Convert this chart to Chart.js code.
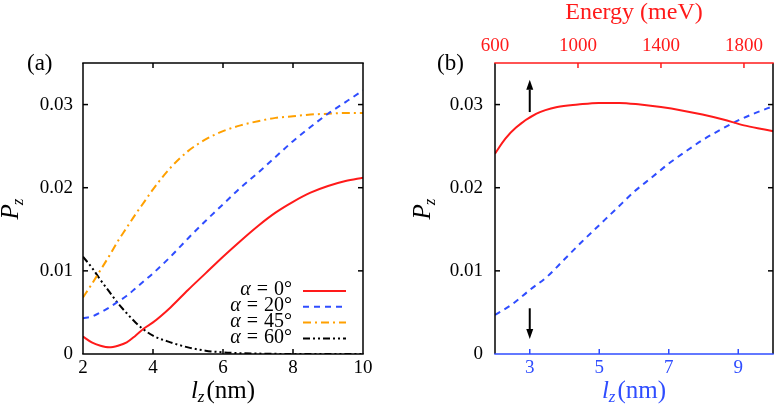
<!DOCTYPE html>
<html>
<head>
<meta charset="utf-8">
<script src="https://cdn.jsdelivr.net/npm/chart.js@4.4.1/dist/chart.umd.min.js"></script>
<style>
  html, body { margin: 0; padding: 0; background: #fff; }
  #wrap { position: relative; width: 776px; height: 407px; }
  canvas { position: absolute; top: 0; }
  #chartA { left: 0; }
  #chartB { left: 410px; }
</style>
</head>
<body>
<div id="wrap">
  <canvas id="chartA" width="410" height="407"></canvas>
  <canvas id="chartB" width="366" height="407"></canvas>
</div>
<script>
/* Two-panel P_z figure: (a) P_z vs l_z for four angles, (b) P_z vs l_z and vs energy */

// ---- panel (a) data ----
const lzA = [2, 2.25, 2.5, 2.75, 3, 3.25, 3.5, 3.75, 4, 4.5, 5, 5.5, 6, 6.5, 7, 7.5, 8, 8.5, 9, 9.5, 10];
const pzAlpha0  = [0.0021, 0.0014, 0.0010, 0.0008, 0.0010, 0.0014, 0.0022, 0.0031, 0.0038, 0.0056, 0.0077, 0.0097, 0.0117, 0.0136, 0.0154, 0.0170, 0.0183, 0.0194, 0.0202, 0.0208, 0.0212];
const pzAlpha20 = [0.0043, 0.0045, 0.0050, 0.0056, 0.0063, 0.0070, 0.0079, 0.0088, 0.0097, 0.0117, 0.0139, 0.0160, 0.0180, 0.0200, 0.0218, 0.0237, 0.0256, 0.0273, 0.0289, 0.0303, 0.0317];
const pzAlpha45 = [0.0068, 0.0084, 0.0101, 0.0118, 0.0136, 0.0152, 0.0168, 0.0183, 0.0198, 0.0224, 0.0244, 0.0258, 0.0268, 0.0275, 0.0280, 0.0284, 0.0286, 0.0288, 0.0289, 0.0290, 0.0290];
const pzAlpha60 = [0.0117, 0.0104, 0.0089, 0.0075, 0.0061, 0.0049, 0.0038, 0.0029, 0.0022, 0.0014, 0.0008, 0.0004, 0.0002, 0.0001, 0.00005, 0.00002, 0, 0, 0, 0, 0];
const alphaDeg = [0, 20, 45, 60];

// ---- panel (b) data ----
const lzB = [2, 2.5, 3, 3.5, 4, 4.5, 5, 5.5, 6, 6.5, 7, 7.5, 8, 8.5, 9, 9.5, 10];
const pzVsLz = [0.0047, 0.0060, 0.0077, 0.0093, 0.0114, 0.0135, 0.0155, 0.0175, 0.0195, 0.0212, 0.0229, 0.0244, 0.0258, 0.0270, 0.0281, 0.0290, 0.0298];
const energyB = [600, 650, 700, 800, 900, 1000, 1100, 1200, 1300, 1400, 1500, 1600, 1700, 1800, 1900, 1940];
const pzVsE = [0.0241, 0.0259, 0.0272, 0.0289, 0.0297, 0.0300, 0.0302, 0.0302, 0.0300, 0.0297, 0.0293, 0.0288, 0.0282, 0.0275, 0.0270, 0.0268];
const arrowX = [3, 3];
const arrowFrom = [0.0291, 0.0055];
const arrowTo = [0.0330, 0.0018];

// ---- ticks ----
const lzTicksA = [2, 4, 6, 8, 10];
const lzTicksB = [3, 5, 7, 9];
const energyTicks = [600, 1000, 1400, 1800];
const pzTicks = [0, 0.01, 0.02, 0.03];

const SERIF = "'Liberation Serif', 'DejaVu Serif', serif";
const RED = '#ff1a1a';
const BLUE = '#2f4dff';
const ORANGE = '#ffa000';
const BLACK = '#000000';
const TICK_FONT = { family: SERIF, size: 19 };

const pts = (xs, ys) => xs.map((x, i) => ({ x, y: ys[i] }));
const setTicks = arr => scale => { scale.ticks = arr.map(v => ({ value: v })); };
const pzLabel = v => (v === 0 ? '0' : v.toFixed(2));

function lineSet(label, data, color, dash, axis) {
  return {
    label, data, xAxisID: axis || 'x',
    borderColor: color, borderWidth: 2, borderDash: dash,
    pointRadius: 0, fill: false, cubicInterpolationMode: 'monotone'
  };
}

// inward ticks + box, drawn through the scales
function framePlugin(cfg) {
  return {
    id: 'frame',
    afterDatasetsDraw(chart) {
      const { ctx, chartArea: a, scales } = chart;
      const tk = 5;
      ctx.save();
      ctx.lineWidth = 1.5;
      ctx.setLineDash([]);
      const seg = (x1, y1, x2, y2, c) => {
        ctx.strokeStyle = c; ctx.beginPath(); ctx.moveTo(x1, y1); ctx.lineTo(x2, y2); ctx.stroke();
      };
      cfg.bottom.ticks.forEach(v => {
        const x = scales[cfg.bottom.axis].getPixelForValue(v);
        if (x > a.left + 1 && x < a.right - 1) seg(x, a.bottom, x, a.bottom - tk, cfg.bottom.color);
      });
      cfg.top.ticks.forEach(v => {
        const x = scales[cfg.top.axis].getPixelForValue(v);
        if (x > a.left + 1 && x < a.right - 1) seg(x, a.top, x, a.top + tk, cfg.top.color);
      });
      pzTicks.forEach(v => {
        const y = scales.y.getPixelForValue(v);
        if (y > a.top + 1 && y < a.bottom - 1) {
          seg(a.left, y, a.left + tk, y, BLACK);
          seg(a.right, y, a.right - tk, y, BLACK);
        }
      });
      seg(a.left, a.top, a.left, a.bottom, BLACK);
      seg(a.right, a.top, a.right, a.bottom, BLACK);
      seg(a.left - 0.75, a.top, a.right + 0.75, a.top, cfg.top.color);
      seg(a.left - 0.75, a.bottom, a.right + 0.75, a.bottom, cfg.bottom.color);
      ctx.restore();
    }
  };
}

function drawPz(ctx, baseX, cy) {
  ctx.save();
  ctx.fillStyle = BLACK;
  ctx.textBaseline = 'alphabetic';
  ctx.font = `italic 25px ${SERIF}`;
  const wp = ctx.measureText('P').width;
  ctx.font = `italic 17px ${SERIF}`;
  const wz = ctx.measureText('z').width;
  ctx.translate(baseX, cy);
  ctx.rotate(-Math.PI / 2);
  const x0 = -(wp + wz) / 2;
  ctx.font = `italic 25px ${SERIF}`;
  ctx.fillText('P', x0, 0);
  ctx.font = `italic 17px ${SERIF}`;
  ctx.fillText('z', x0 + wp - 1, 5);
  ctx.restore();
}

function drawLz(ctx, cx, baseY, color) {
  ctx.save();
  ctx.fillStyle = color;
  ctx.textBaseline = 'alphabetic';
  ctx.font = `italic 25px ${SERIF}`;
  const wl = ctx.measureText('l').width;
  ctx.font = `italic 17px ${SERIF}`;
  const wz = ctx.measureText('z').width;
  ctx.font = `25px ${SERIF}`;
  const wn = ctx.measureText('(nm)').width;
  let x = cx - (wl + wz + 2 + wn) / 2;
  ctx.font = `italic 25px ${SERIF}`;
  ctx.fillText('l', x, baseY);
  x += wl;
  ctx.font = `italic 17px ${SERIF}`;
  ctx.fillText('z', x, baseY + 4);
  x += wz + 2;
  ctx.font = `25px ${SERIF}`;
  ctx.fillText('(nm)', x, baseY);
  ctx.restore();
}

function drawTag(ctx, text) {
  ctx.save();
  ctx.fillStyle = BLACK;
  ctx.font = `23px ${SERIF}`;
  ctx.textBaseline = 'alphabetic';
  ctx.fillText(text, 27, 70);
  ctx.restore();
}

const labelsA = {
  id: 'labelsA',
  afterDraw(chart) {
    const { ctx, chartArea: a } = chart;
    drawTag(ctx, '(a)');
    drawPz(ctx, 18, (a.top + a.bottom) / 2);
    drawLz(ctx, (a.left + a.right) / 2, 398, BLACK);

    // legend in the lower right corner: "α = 20°" set in math-like spacing
    const sets = chart.data.datasets;
    ctx.save();
    ctx.textBaseline = 'middle';
    alphaDeg.forEach((d, i) => {
      const y = a.bottom - 64 + i * 15.8;
      const num = `${d}\u00b0`;
      ctx.font = `20px ${SERIF}`;
      const wn = ctx.measureText(num).width;
      const we = ctx.measureText('=').width;
      ctx.font = `italic 20px ${SERIF}`;
      const wa = ctx.measureText('\u03b1').width;
      const gap = 6;
      let x = a.right - 71 - wn;
      ctx.fillStyle = BLACK;
      ctx.font = `20px ${SERIF}`;
      ctx.fillText(num, x, y);
      x -= gap + we;
      ctx.fillText('=', x, y);
      x -= gap + wa;
      ctx.font = `italic 20px ${SERIF}`;
      ctx.fillText('\u03b1', x, y);
      ctx.strokeStyle = sets[i].borderColor;
      ctx.lineWidth = 2;
      ctx.setLineDash(sets[i].borderDash || []);
      ctx.beginPath();
      ctx.moveTo(a.right - 60, y + 1);
      ctx.lineTo(a.right - 17, y + 1);
      ctx.stroke();
    });
    ctx.restore();
  }
};

const labelsB = {
  id: 'labelsB',
  afterDraw(chart) {
    const { ctx, chartArea: a, scales } = chart;
    drawTag(ctx, '(b)');
    drawPz(ctx, 20, (a.top + a.bottom) / 2);
    drawLz(ctx, (a.left + a.right) / 2, 398, BLUE);

    // arrows
    ctx.save();
    ctx.strokeStyle = BLACK;
    ctx.fillStyle = BLACK;
    ctx.lineWidth = 2;
    arrowX.forEach((xv, i) => {
      const x = scales.x.getPixelForValue(xv);
      const y0 = scales.y.getPixelForValue(arrowFrom[i]);
      const y1 = scales.y.getPixelForValue(arrowTo[i]);
      const dir = y1 < y0 ? -1 : 1;
      const head = 10;
      ctx.beginPath();
      ctx.moveTo(x, y0);
      ctx.lineTo(x, y1 - dir * head);
      ctx.stroke();
      ctx.beginPath();
      ctx.moveTo(x, y1);
      ctx.lineTo(x - 3.5, y1 - dir * head);
      ctx.lineTo(x + 3.5, y1 - dir * head);
      ctx.closePath();
      ctx.fill();
    });
    ctx.restore();
  }
};

const yScale = (width, pad) => ({
  type: 'linear', min: 0, max: 0.035,
  afterBuildTicks: setTicks(pzTicks),
  afterFit: s => { s.width = width; },
  grid: { display: false, drawTicks: false },
  border: { display: false },
  ticks: { font: TICK_FONT, color: BLACK, padding: pad, callback: pzLabel }
});

new Chart(document.getElementById('chartA'), {
  type: 'line',
  data: {
    datasets: [
      lineSet('alpha = 0', pts(lzA, pzAlpha0), RED, []),
      lineSet('alpha = 20', pts(lzA, pzAlpha20), BLUE, [6, 5]),
      lineSet('alpha = 45', pts(lzA, pzAlpha45), ORANGE, [8, 4, 2, 4]),
      lineSet('alpha = 60', pts(lzA, pzAlpha60), BLACK, [7, 3, 2, 3, 2, 3])
    ]
  },
  options: {
    responsive: false,
    animation: false,
    layout: { padding: { top: 63, right: 47, left: 0, bottom: 0 } },
    plugins: { legend: { display: false }, tooltip: { enabled: false } },
    scales: {
      x: {
        type: 'linear', position: 'bottom', min: 2, max: 10,
        afterBuildTicks: setTicks(lzTicksA),
        afterFit: s => { s.height = 53; },
        grid: { display: false, drawTicks: false },
        border: { display: false },
        ticks: { font: TICK_FONT, color: BLACK, padding: 3, maxRotation: 0, callback: v => String(v) }
      },
      y: yScale(83, 10)
    }
  },
  plugins: [
    framePlugin({ bottom: { axis: 'x', ticks: lzTicksA, color: BLACK }, top: { axis: 'x', ticks: lzTicksA, color: BLACK } }),
    labelsA
  ]
});

new Chart(document.getElementById('chartB'), {
  type: 'line',
  data: {
    datasets: [
      lineSet('P_z vs energy', pts(energyB, pzVsE), RED, [], 'x2'),
      lineSet('P_z vs l_z', pts(lzB, pzVsLz), BLUE, [6, 5], 'x')
    ]
  },
  options: {
    responsive: false,
    animation: false,
    layout: { padding: { top: 0, right: 3, left: 0, bottom: 0 } },
    plugins: { legend: { display: false }, tooltip: { enabled: false } },
    scales: {
      x: {
        type: 'linear', position: 'bottom', min: 2, max: 10,
        afterBuildTicks: setTicks(lzTicksB),
        afterFit: s => { s.height = 53; },
        grid: { display: false, drawTicks: false },
        border: { display: false },
        ticks: { font: TICK_FONT, color: BLUE, padding: 3, maxRotation: 0, callback: v => String(v) }
      },
      x2: {
        type: 'linear', position: 'top', min: 600, max: 1940,
        afterBuildTicks: setTicks(energyTicks),
        afterFit: s => { s.height = 63; },
        grid: { display: false, drawTicks: false },
        border: { display: false },
        ticks: { font: TICK_FONT, color: RED, padding: 6, maxRotation: 0, callback: v => String(v) },
        title: {
          display: true, text: 'Energy (meV)', color: RED,
          font: { family: SERIF, size: 24, lineHeight: 1.1 },
          padding: { top: 0, bottom: 0 }
        }
      },
      y: yScale(85, 12)
    }
  },
  plugins: [
    framePlugin({ bottom: { axis: 'x', ticks: lzTicksB, color: BLUE }, top: { axis: 'x2', ticks: energyTicks, color: RED } }),
    labelsB
  ]
});
</script>
</body>
</html>
